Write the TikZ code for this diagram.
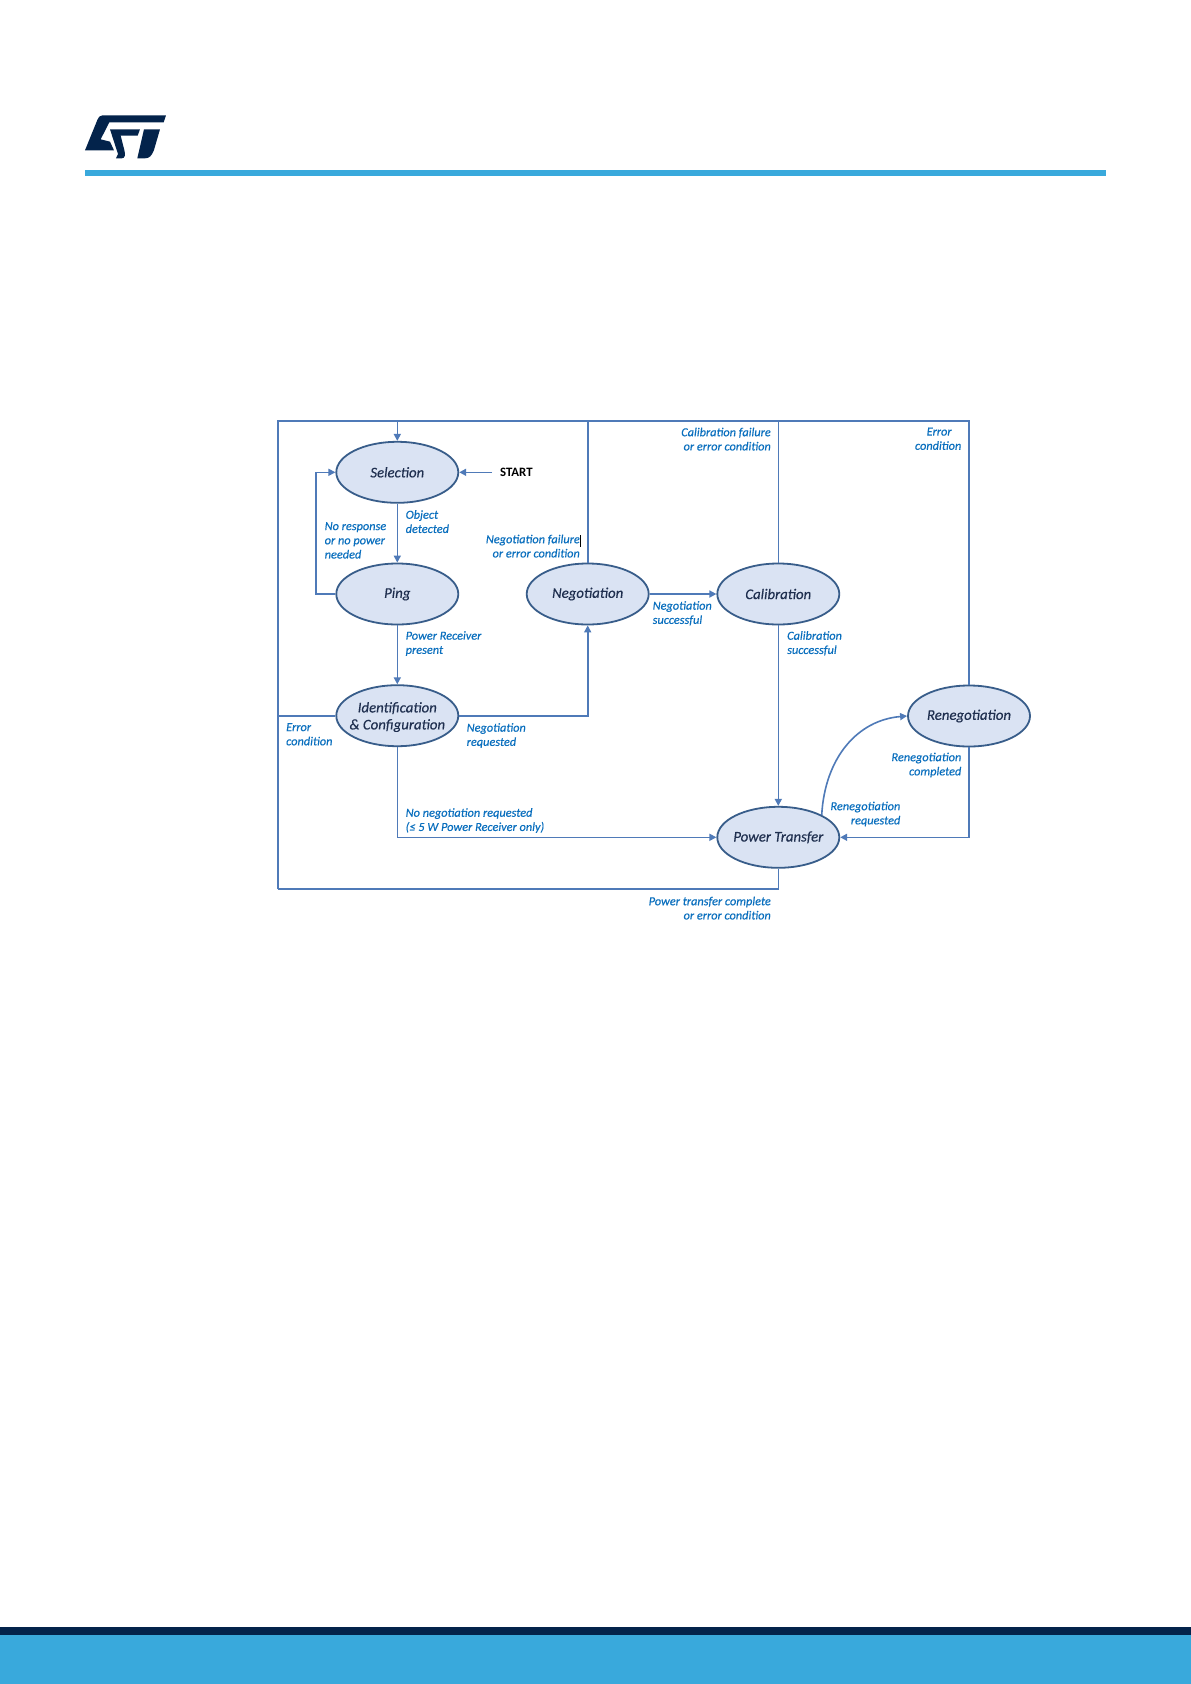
\documentclass[tikz,border=0pt]{standalone}
\usepackage{fontspec}
\setmainfont{Carlito}[ItalicFeatures={FakeBold=0.3}]
\usetikzlibrary{arrows.meta,shapes.geometric}
\definecolor{stnavy}{HTML}{03234B}
\definecolor{stblue}{HTML}{39A9DC}
\definecolor{linec}{HTML}{4F7AB8}
\definecolor{edgec}{HTML}{385D8A}
\definecolor{fillc}{HTML}{DAE3F3}
\definecolor{labc}{HTML}{0A6FBE}
\definecolor{statec}{HTML}{1F2F4F}
\tikzset{
  x=1pt,y=-1pt,
  state/.style={draw=edgec,line width=1.8pt,fill=fillc,ellipse,minimum width=122pt,minimum height=61pt,inner xsep=-30pt,inner ysep=-12pt,align=center,text=statec,font=\fontsize{14.8}{17}\selectfont\itshape},
  wire/.style={draw=linec,line width=1.6pt},
  arr/.style={wire,-{Triangle[length=7pt,width=7pt]}},
  lab/.style={text=labc,font=\fontsize{12.3}{14.2}\selectfont\itshape,inner sep=0pt,align=left,anchor=north west},
  labr/.style={lab,align=right,anchor=north east},
}
\begin{document}
\begin{tikzpicture}
\useasboundingbox (0,0) rectangle (1191,1684);
\fill[white] (0,0) rectangle (1191,1684);
% header and footer
\fill[stblue] (85,170) rectangle (1105.5,176);
\fill[stnavy] (0,1627) rectangle (1191,1635);
\fill[stblue] (0,1635) rectangle (1191,1684);
\begin{scope}[shift={(60,90)},x=0.3333pt,y=-0.3333pt,fill=stnavy]
\fill (128,76) -- (318,76) -- (311,97) -- (148,97) -- (122,148) -- (150,155) -- (162,181) -- (75,181) -- (112,90) .. controls (117,80) and (120,76) .. (128,76) -- cycle;
\fill (150,118) -- (240,118) -- (233,137) -- (182,137) -- (193,180) .. controls (197,195) and (195,205) .. (185,205) -- (168,205) -- (174,192) -- cycle;
\fill (252,118) -- (300,118) -- (282,180) .. controls (275,198) and (268,205) .. (255,205) -- (232,205) -- cycle;
\end{scope}
% states
\node[state] (sel) at (397.3,472.3) {\raisebox{-1pt}{Selection}};
\node[state] (ping) at (397.3,594) {\raisebox{-2pt}{Ping}};
\node[state] (idc) at (397.3,715.7) {\rule{0pt}{13pt}Identification\\\& Configuration};
\node[state] (neg) at (587.7,594) {\raisebox{-2pt}{Negotiation}};
\node[state] (cal) at (778.3,594) {\raisebox{-1pt}{Calibration}};
\node[state] (pow) at (778.3,837.3) {\raisebox{-2pt}{Power Transfer}};
\node[state] (ren) at (969,716) {\raisebox{-2pt}{Renegotiation}};
\node[font=\fontsize{12.8}{13}\selectfont\bfseries,inner sep=0pt,anchor=west] (start) at (500,472.5) {START};
% frame corners
\coordinate (tl) at (277.7,420.7);
\coordinate (tr) at (ren.north |- tl);
\coordinate (bl) at (277.7,889);
\coordinate (selt) at (sel.north |- tl);
\coordinate (negt) at (neg.north |- tl);
\coordinate (calt) at (cal.north |- tl);
\coordinate (powb) at (pow.south |- bl);
\coordinate (pingl) at (315.7,594);
\coordinate (sell) at (315.7,472.3);
\coordinate (startw) at (492,472.3);
% connectors
\draw[wire] (bl) -- (powb) -- (pow.south);
\draw[wire] (bl) -- (tl) -- (tr) -- (ren.north);
\draw[arr] (selt) -- (sel.north);
\draw[wire] (neg.north) -- (negt);
\draw[wire] (cal.north) -- (calt);
\draw[arr] (startw) -- (sel.east);
\draw[arr] (sel.south) -- (ping.north);
\draw[arr] (ping.south) -- (idc.north);
\draw[wire] (ping.west) -- (pingl) -- (sell);
\draw[arr] (sell) -- (sel.west);
\draw[wire] (idc.west) -- (idc.west -| tl);
\draw[arr] (idc.east) -- (idc.east -| neg.south) -- (neg.south);
\draw[arr] (idc.south) |- (pow.west);
\draw[arr] (neg.east) -- (cal.west);
\draw[arr] (cal.south) -- (pow.north);
\draw[arr] (ren.south) |- (pow.east);
\draw[arr] (821.7,815) .. controls (825,757) and (858,720) .. (ren.west);
% labels
\node[lab] (l1) at (405.5,510) {Object\\detected};
\node[lab] (l2) at (324.5,522) {No response\\or no power\\needed};
\node[lab] (l3) at (405.5,631) {Power Receiver\\present};
\node[labr] (l4) at (580,534.5) {Negotiation failure\\or error condition};
\node[lab] (l5) at (286,723) {Error\\condition};
\node[lab] (l6) at (466.5,723) {Negotiation\\requested};
\node[lab] (l7) at (405.5,808) {No negotiation requested\\(≤ 5 W Power Receiver only)};
\node[lab] (l8) at (652.5,601) {Negotiation\\successful};
\node[labr] (l9) at (771,427.5) {Calibration failure\\or error condition};
\node[lab] (l10) at (787,631) {Calibration\\successful};
\node[labr] (l11) at (961.5,427.5) {Error\phantom{m}\\condition};
\node[labr] (l12) at (961.5,752.5) {Renegotiation\\completed};
\node[labr] (l13) at (900.5,801.5) {Renegotiation\\requested};
\node[labr] (l14) at (771,896.5) {Power transfer complete\\or error condition};
\draw[black,line width=0.5pt] (580.3,535) -- (580.3,547);
\end{tikzpicture}
\end{document}
